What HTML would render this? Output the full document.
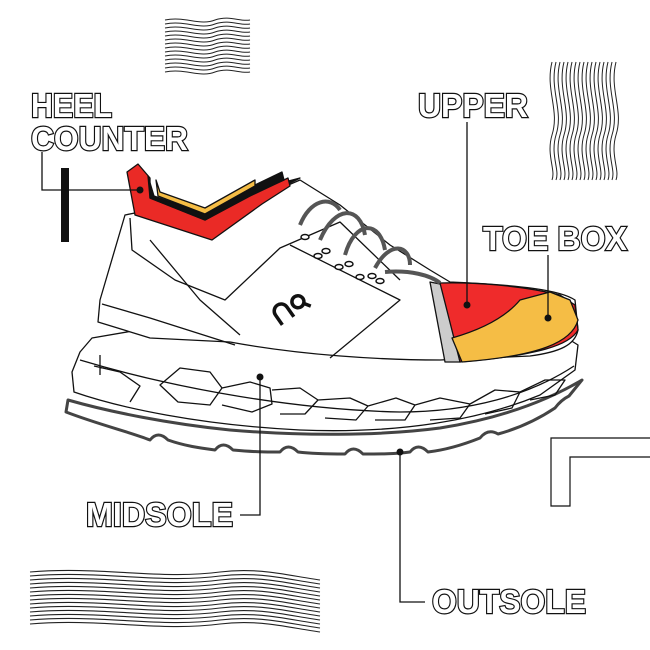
<!DOCTYPE html>
<html><head><meta charset="utf-8"><style>
html,body{margin:0;padding:0;background:#fff;}
svg{display:block;}
.lbl{font-family:"Liberation Sans",sans-serif;font-weight:bold;font-size:33px;fill:#fff;stroke:#111;stroke-width:2.4px;paint-order:stroke;}
</style></head><body>
<svg width="650" height="650" viewBox="0 0 650 650" xmlns="http://www.w3.org/2000/svg">
<defs>
<path id="wb" d="M30,572 C100,566 160,580 220,572 C260,567 290,576 320,580" fill="none" stroke="#222" stroke-width="1.1"/>
<path id="wt" d="M165,20 C185,16 200,26 215,20 C230,15 240,22 250,20" fill="none" stroke="#222" stroke-width="1"/>
<path id="wr" d="M552,62 C545,90 560,110 552,135 C546,155 556,170 552,180" fill="none" stroke="#222" stroke-width="1"/>
</defs>
<g>
<use href="#wb"/><use href="#wb" y="4"/><use href="#wb" y="8"/><use href="#wb" y="12"/><use href="#wb" y="16"/><use href="#wb" y="20"/><use href="#wb" y="24"/><use href="#wb" y="28"/><use href="#wb" y="32"/><use href="#wb" y="36"/><use href="#wb" y="40"/><use href="#wb" y="44"/><use href="#wb" y="48"/><use href="#wb" y="52"/>
</g>
<g>
<use href="#wt"/><use href="#wt" y="4"/><use href="#wt" y="8"/><use href="#wt" y="12"/><use href="#wt" y="16"/><use href="#wt" y="20"/><use href="#wt" y="24"/><use href="#wt" y="28"/><use href="#wt" y="32"/><use href="#wt" y="36"/><use href="#wt" y="40"/><use href="#wt" y="44"/><use href="#wt" y="48"/><use href="#wt" y="52"/>
</g>
<g>
<use href="#wr"/><use href="#wr" x="4"/><use href="#wr" x="8"/><use href="#wr" x="12"/><use href="#wr" x="16"/><use href="#wr" x="20"/><use href="#wr" x="24"/><use href="#wr" x="28"/><use href="#wr" x="32"/><use href="#wr" x="36"/><use href="#wr" x="40"/><use href="#wr" x="44"/><use href="#wr" x="48"/><use href="#wr" x="52"/><use href="#wr" x="56"/><use href="#wr" x="60"/><use href="#wr" x="64"/>
</g>
<path d="M650,438 L551,438 L551,506 L570,506 L570,457 L650,457" fill="none" stroke="#111" stroke-width="1.2"/>

<g stroke="#111" stroke-width="1.3" fill="#fff" stroke-linejoin="round">
<!-- outsole -->
<path d="M68,400 L66,412 C100,425 130,432 150,440 q8,-10 18,0 C185,446 200,448 215,450 q8,-10 18,0 C255,452 265,452 280,452 q8,-10 18,0 C315,454 330,454 345,454 q8,-10 18,0 C380,454 395,454 410,452 q8,-10 18,0 C445,450 460,446 480,438 q8,-10 18,-4 C520,428 540,418 555,408 q6,-8 14,-12 L582,380 C540,405 490,420 440,428 C380,436 300,436 230,430 C170,424 110,412 68,400 Z" stroke="#444" stroke-width="3"/>
<!-- midsole -->
<path d="M92,338 L80,352 L72,372 L74,392 C120,408 200,425 300,430 C400,434 480,420 540,395 L575,370 L578,345 L570,340 C500,352 440,356 380,356 C320,355 260,348 230,340 L150,328 Z"/>
<path d="M80,360 C180,390 300,410 400,412 C470,412 530,395 574,366" fill="none"/>
<path d="M94,366 L120,372 L140,386 L130,402 M100,355 L100,375 M160,385 L180,368 L210,372 L222,388 L210,405 L178,402 Z M222,388 L250,382 L270,388 L272,404 L252,412 L222,405 M272,390 L300,388 L318,400 L305,414 L280,414 M318,400 L350,398 L368,406 L356,420 L325,418 M368,406 L396,398 L415,405 L405,420 L375,420 M415,405 L440,398 L470,404 L460,418 L430,420 M470,404 L495,390 L520,392 L512,408 L485,414 M520,392 L545,380 L565,380 L555,395 L530,400" fill="none"/>
<!-- upper body -->
<path d="M125,215 L100,300 L98,322 L150,338 L230,342 C300,355 380,360 440,360 L530,356 C560,352 575,345 578,330 L575,300 C560,290 520,285 450,282 L430,270 L390,245 L340,205 L300,180 L265,195 L210,238 L140,212 Z"/>
<path d="M130,218 L132,250 L175,280 L225,300 L280,248 L340,222 L400,280" fill="none"/>
<path d="M102,304 L150,318 L235,345" fill="none"/>
<path d="M290,245 L400,300 L330,358 M150,240 L200,300 L240,335" fill="none"/>
<path d="M430,282 L445,362 L460,362 L445,285 Z" fill="#ccc"/>
<path d="M440,283 C470,282 520,285 560,295 L575,305 L578,330 C570,345 540,355 460,362 Z" fill="#ef2b2b"/>
<path d="M452,338 C480,330 505,318 520,300 L550,292 L570,300 L578,320 C572,342 540,356 462,362 Z" fill="#f5bd45"/>
<!-- collar -->
<path d="M300,178 L268,194 L240,212 L208,232 L140,210 L140,205 L205,228 L262,188 Z" fill="#111"/>
<path d="M127,172 L138,164 L150,178 L150,198 L205,220 L250,196 L288,178 L290,186 L262,204 L212,240 L135,215 Z" fill="#ea2a26"/>
<path d="M148,176 L154,196 L205,214 L255,185 L282,172 L284,180 L256,192 L205,220 L150,198 Z" fill="#111"/>
<path d="M156,180 L160,192 L205,208 L255,180 L255,186 L205,214 L158,196 Z" fill="#f5bd45"/>
<!-- laces -->
<path d="M300,225 C310,200 330,195 340,210 M320,240 C335,205 360,205 365,235 M345,255 C355,220 380,220 385,250 M375,268 C390,240 410,245 410,265 M385,272 C410,270 430,275 440,283" fill="none" stroke="#555" stroke-width="4"/>
<g fill="#fff" stroke-width="1.5">
<ellipse cx="305" cy="237" rx="4" ry="2.5"/><ellipse cx="326" cy="251" rx="4" ry="2.5"/><ellipse cx="349" cy="264" rx="4" ry="2.5"/><ellipse cx="372" cy="276" rx="4" ry="2.5"/>
<ellipse cx="318" cy="256" rx="4" ry="2.5"/><ellipse cx="339" cy="267" rx="4" ry="2.5"/><ellipse cx="360" cy="277" rx="4" ry="2.5"/><ellipse cx="380" cy="281" rx="4" ry="2.5"/>
</g>
</g>
<!-- On logo rotated -->
<g fill="none" stroke="#111" stroke-width="3.5" transform="rotate(-35 288 305)">
<path d="M272,318 L272,306 A7,7 0 0 1 286,306 L286,318"/>
<circle cx="298" cy="308" r="6"/><path d="M302,313 L306,319"/>
</g>

<!-- leaders -->
<rect x="61" y="168" width="8" height="74" fill="#111"/>
<path d="M42,152 L42,190 L140,190" fill="none" stroke="#111" stroke-width="1.3"/>
<circle cx="140" cy="190" r="3.5" fill="#111"/>
<path d="M467,122 L467,305" stroke="#111" stroke-width="1.3"/>
<circle cx="467" cy="305" r="3.5" fill="#111"/>
<path d="M548,255 L548,318" stroke="#111" stroke-width="1.3"/>
<circle cx="548" cy="318" r="3.5" fill="#111"/>
<path d="M260,377 L260,515 L240,515" fill="none" stroke="#111" stroke-width="1.3"/>
<circle cx="260" cy="377" r="3.5" fill="#111"/>
<path d="M400,452 L400,602 L425,602" fill="none" stroke="#111" stroke-width="1.3"/>
<circle cx="400" cy="452" r="3.5" fill="#111"/>

<text class="lbl" x="31" y="117" textLength="81" lengthAdjust="spacingAndGlyphs">HEEL</text>
<text class="lbl" x="31" y="150" textLength="157" lengthAdjust="spacingAndGlyphs">COUNTER</text>
<text class="lbl" x="418" y="117" textLength="110" lengthAdjust="spacingAndGlyphs">UPPER</text>
<text class="lbl" x="483" y="250" textLength="144" lengthAdjust="spacingAndGlyphs">TOE BOX</text>
<text class="lbl" x="86" y="526" textLength="147" lengthAdjust="spacingAndGlyphs">MIDSOLE</text>
<text class="lbl" x="432" y="613" textLength="154" lengthAdjust="spacingAndGlyphs">OUTSOLE</text>
</svg>
</body></html>
